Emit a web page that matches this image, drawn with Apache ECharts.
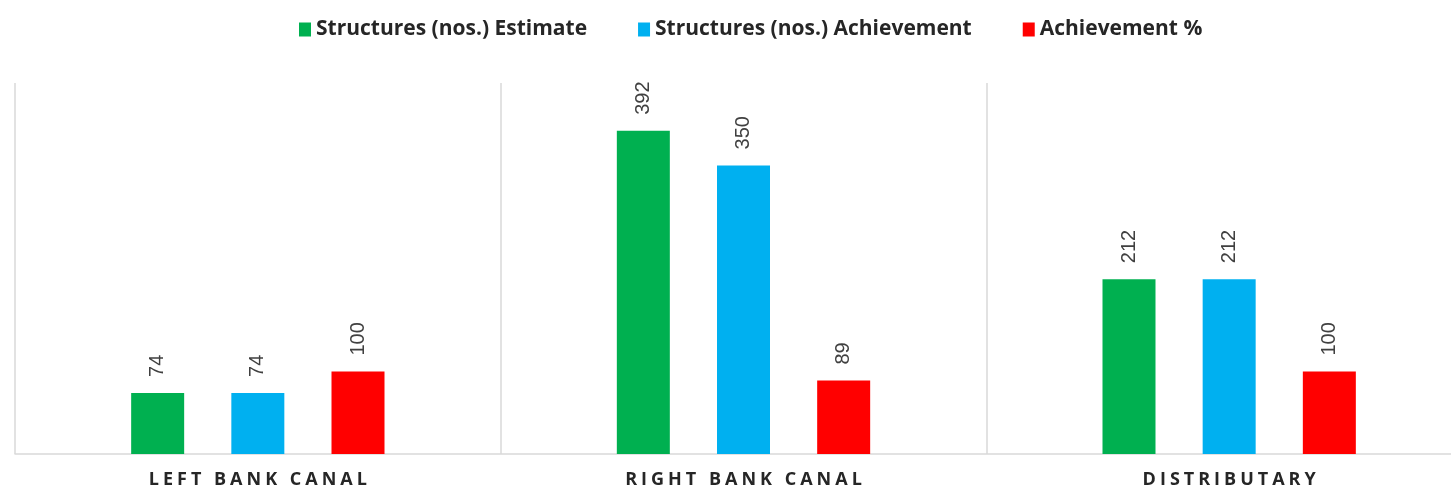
<!DOCTYPE html>
<html><head><meta charset="utf-8">
<script src="https://cdn.jsdelivr.net/npm/echarts@6/dist/echarts.min.js"></script>
<style>html,body{margin:0;padding:0;background:#fff;overflow:hidden}#c{width:1473px;height:491px}</style>
</head><body><div id="c"></div>
<script>
var categories = ['LEFT BANK CANAL', 'RIGHT BANK CANAL', 'DISTRIBUTARY'];
var seriesNames = ['Structures (nos.) Estimate', 'Structures (nos.) Achievement', 'Achievement %'];
var estimate = [74, 392, 212];
var achievement = [74, 350, 212];
var achievementPct = [100, 89, 100];
var colors = ['#00B050', '#00B0F0', '#FF0000'];

var chart = echarts.init(document.getElementById('c'), null, {renderer: 'canvas'});
function mk(name, data, color) {
  return {
    name: name, type: 'bar', data: data, barWidth: 53, barGap: '89%',
    itemStyle: {color: color},
    label: {show: true, position: 'top', rotate: 90, align: 'left', verticalAlign: 'middle',
      distance: 16, fontSize: 20, color: '#404040', fontFamily: 'Liberation Sans'}
  };
}
chart.setOption({
  animation: false,
  color: colors,
  legend: {
    top: 14, left: 294, itemWidth: 12, itemHeight: 14, itemGap: 51,
    icon: 'rect',
    textStyle: {fontSize: 21, fontWeight: 'bold', color: '#262626', fontFamily: 'Open Sans'}
  },
  grid: {left: 15, right: 1, top: 83, bottom: 37, containLabel: false},
  xAxis: {
    type: 'category', data: categories,
    axisLine: {lineStyle: {color: '#d9d9d9', width: 1.5}},
    axisTick: {show: false},
    splitLine: {show: true, lineStyle: {color: '#d9d9d9', width: 1.5}},
    axisLabel: {
      margin: 17,
      formatter: function (v) { return v.split('').map(function (c) { return '{l|' + c + '}'; }).join(''); },
      rich: {l: {fontSize: 18, fontWeight: 'bold', color: '#262626', fontFamily: 'Open Sans', padding: [0, 2]}}
    }
  },
  yAxis: {type: 'value', min: 0, max: 450, show: false},
  series: [
    mk(seriesNames[0], estimate, colors[0]),
    mk(seriesNames[1], achievement, colors[1]),
    mk(seriesNames[2], achievementPct, colors[2])
  ]
});
</script></body></html>
